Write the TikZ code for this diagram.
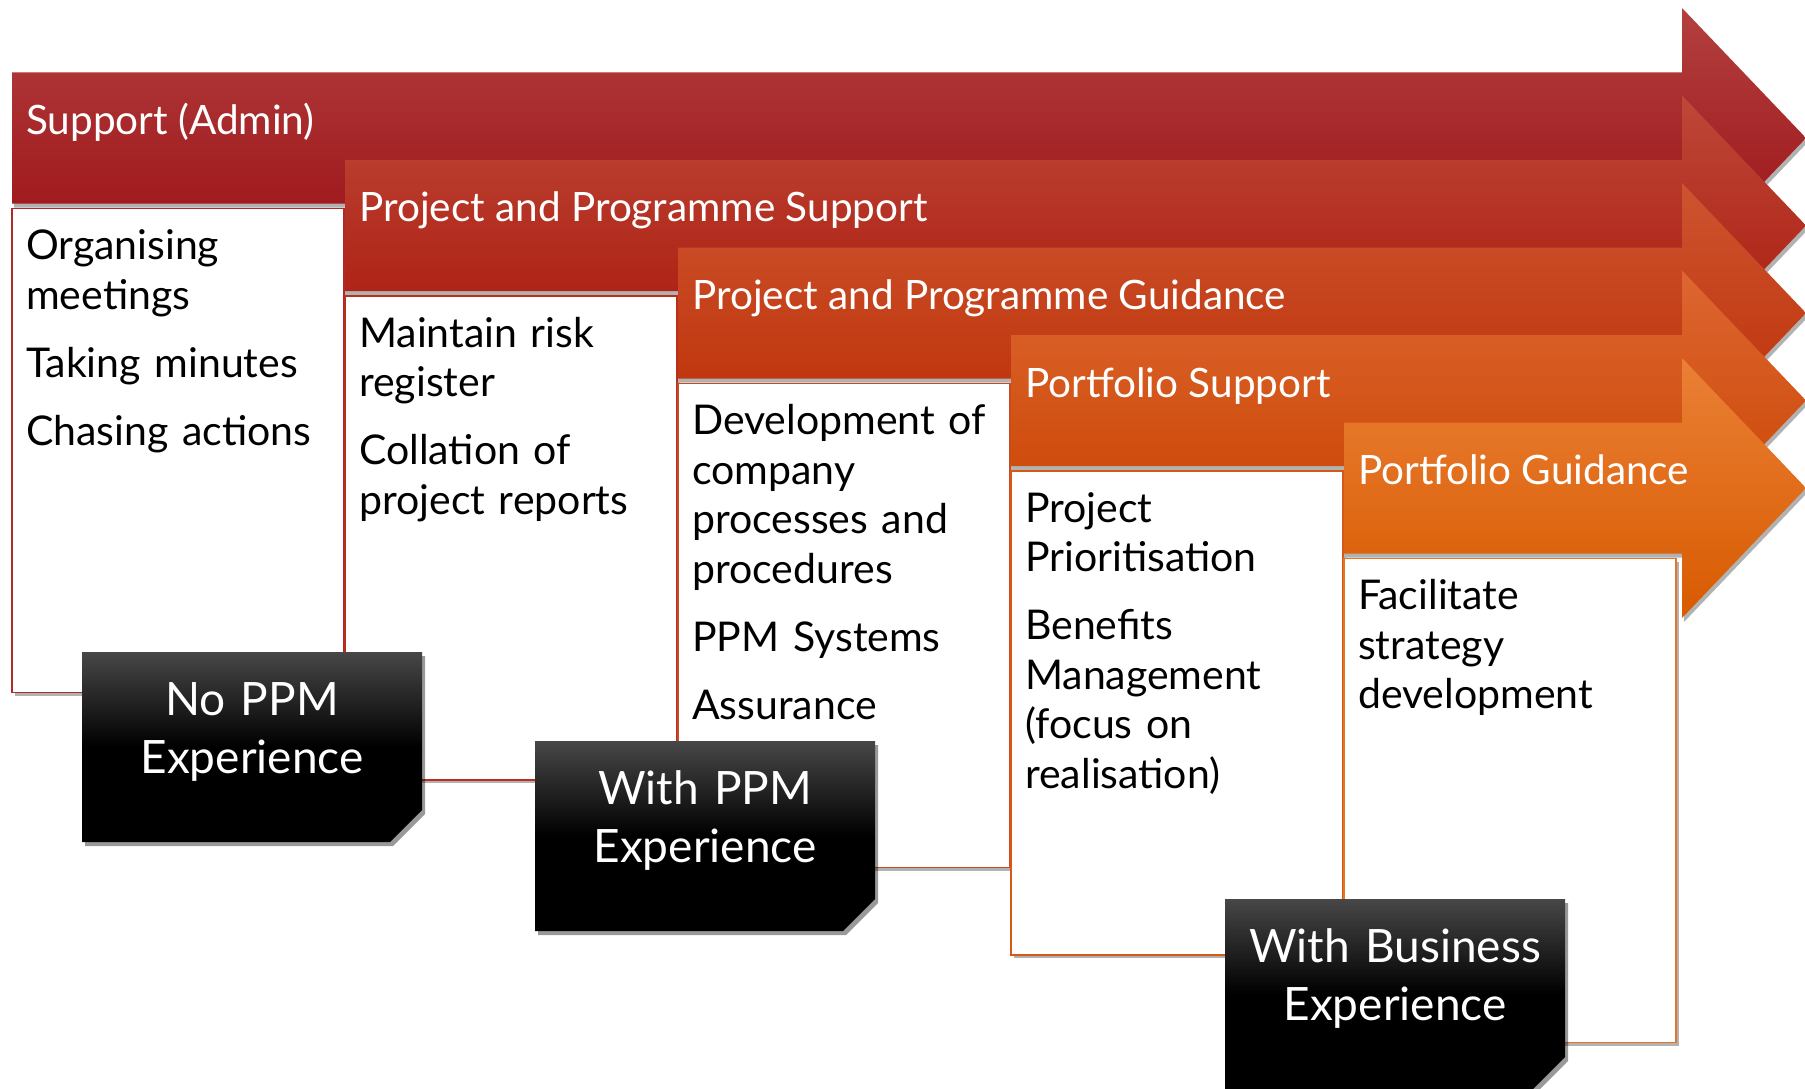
\documentclass[tikz,border=0pt]{standalone}
\usepackage{fontspec}
\setmainfont{Lato}
\usetikzlibrary{shadows}
\definecolor{aoneT}{HTML}{B3403F}\definecolor{aoneB}{HTML}{9A0E13}
\definecolor{atwoT}{HTML}{BE4838}\definecolor{atwoB}{HTML}{AA180B}
\definecolor{athreeT}{HTML}{CD5430}\definecolor{athreeB}{HTML}{BC2E04}
\definecolor{afourT}{HTML}{DD6632}\definecolor{afourB}{HTML}{CA4400}
\definecolor{afiveT}{HTML}{EA8036}\definecolor{afiveB}{HTML}{D85A00}
\definecolor{bone}{HTML}{B02A2A}\definecolor{btwo}{HTML}{B8301C}
\definecolor{bthree}{HTML}{C84A20}\definecolor{bfour}{HTML}{D55A18}
\definecolor{bfive}{HTML}{E57424}
\tikzset{
  arrowbody/.style={drop shadow={shadow xshift=2pt,shadow yshift=-4pt,opacity=0.3,fill=black}},
  contentbox/.style={fill=white,line width=1.5pt,drop shadow={shadow xshift=3pt,shadow yshift=-3pt,opacity=0.3,fill=black}},
  headtext/.style={text=white,font=\fontsize{40.5}{46}\selectfont,anchor=base west,inner sep=0pt},
  bodytext/.style={text=black,font=\fontsize{41}{49.5}\selectfont,anchor=base west,inner sep=0pt,text width=318pt,align=left},
  blackbox/.style={top color=black!72,bottom color=black,middle color=black,drop shadow={shadow xshift=3pt,shadow yshift=-4pt,opacity=0.4,fill=black}},
  blacktext/.style={text=white,font=\fontsize{46}{58.5}\selectfont,anchor=base,inner sep=0pt,text width=340pt,align=center}
}
\newcommand\phasearrow[4]{% xL, top, topcolor, bottomcolor
  \path[arrowbody,top color=#3,bottom color=#4]
    (#1,#2) -- (1682,#2) -- (1682,{#2-64.5}) -- (1806,{#2+65.5})
    -- (1682,{#2+195.5}) -- (1682,{#2+131}) -- (#1,{#2+131}) -- cycle;}
\newcommand\contentrect[3]{% xL, top, color
  \path[contentbox,draw=#3] (#1,{#2+136}) rectangle ({#1+332},{#2+620});}
\newcommand\snipbox[2]{% xL, top
  \path[blackbox] (#1,#2) -- ({#1+340},#2) -- ({#1+340},{#2+158}) -- ({#1+308},{#2+190}) -- (#1,{#2+190}) -- cycle;}
\begin{document}
\begin{tikzpicture}[x=1pt,y=-1pt]
\useasboundingbox (0,0) rectangle (1805,1089);
\clip (0,0) rectangle (1805,1089);

% Phase 1
\phasearrow{12}{72.5}{aoneT}{aoneB}
\node[headtext] (h1) at (26,134.5) {Support (Admin)};
\contentrect{12}{72.5}{bone}
\node[bodytext] (c1) at (26,259.5) {Organising\\meetings\\[18.5pt]Taking minutes\\[18.5pt]Chasing actions};

% Phase 2
\phasearrow{345}{160}{atwoT}{atwoB}
\node[headtext] (h2) at (359,222) {Project and Programme Support};
\contentrect{345}{160}{btwo}
\node[bodytext] (c2) at (359,347) {Maintain risk\\register\\[18.5pt]Collation of\\project reports};

% Phase 3
\phasearrow{678}{247.5}{athreeT}{athreeB}
\node[headtext] (h3) at (692,309.5) {Project and Programme Guidance};
\contentrect{678}{247.5}{bthree}
\node[bodytext] (c3) at (692,434.5) {Development of\\company\\processes and\\procedures\\[18.5pt]PPM Systems\\[18.5pt]Assurance};

% Phase 4
\phasearrow{1011}{335}{afourT}{afourB}
\node[headtext] (h4) at (1025,397) {Portfolio Support};
\contentrect{1011}{335}{bfour}
\node[bodytext] (c4) at (1025,522) {Project\\Prioritisation\\[18.5pt]Benefits\\Management\\(focus on\\realisation)};

% Phase 5
\phasearrow{1344}{422.5}{afiveT}{afiveB}
\node[headtext] (h5) at (1358,484.5) {Portfolio Guidance};
\contentrect{1344}{422.5}{bfive}
\node[bodytext] (c5) at (1358,609.5) {Facilitate\\strategy\\development};

% Experience boxes
\snipbox{82}{652}
\node[blacktext] (e1) at (252,715) {No PPM\\Experience};
\snipbox{535}{741}
\node[blacktext] (e2) at (705,804) {With PPM\\Experience};
\snipbox{1225}{899}
\node[blacktext] (e3) at (1395,962) {With Business\\Experience};
\end{tikzpicture}
\end{document}
